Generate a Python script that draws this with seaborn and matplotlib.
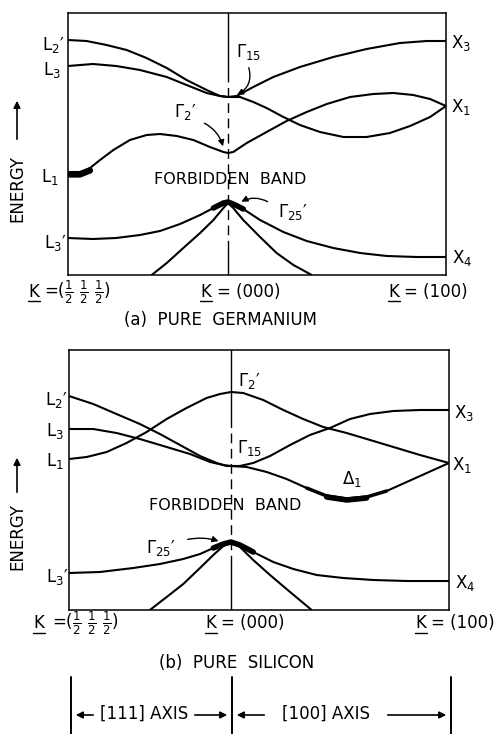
import matplotlib
matplotlib.use("Agg")
import matplotlib.pyplot as plt
import seaborn as sns

# ------------------------------------------------------------------
# Data. k: L=(1/2 1/2 1/2) at left, Gamma=(000) at 0, X=(100) at 1
# Energy in arbitrary units (0 = bottom of each panel)
# ------------------------------------------------------------------
# (a) Germanium
ge_up1_k = [-0.734, -0.649, -0.557, -0.465, -0.374, -0.281, -0.19, -0.098, -0.037, 0, 0.040, 0.116, 0.208, 0.330, 0.483, 0.636, 0.789, 0.912, 1.0]
ge_up1_e = [23.5, 23.4, 23.0, 22.5, 21.7, 20.7, 19.5, 18.5, 17.9, 17.8, 17.9, 18.8, 19.8, 20.8, 21.8, 22.6, 23.2, 23.4, 23.4]

ge_up2_k = [-0.734, -0.62, -0.513, -0.404, -0.281, -0.190, -0.098, -0.037, 0, 0.055, 0.116, 0.177, 0.254, 0.330, 0.422, 0.529, 0.636, 0.743, 0.835, 0.927, 1.0]
ge_up2_e = [20.9, 21.1, 20.9, 20.5, 19.8, 19.0, 18.2, 17.9, 17.8, 17.8, 17.3, 16.7, 15.8, 15.0, 14.3, 13.8, 13.8, 14.2, 14.9, 15.8, 16.9]

ge_cb_k = [-0.734, -0.679, -0.633, -0.587, -0.526, -0.450, -0.373, -0.312, -0.235, -0.159, -0.083, -0.021, 0, 0.024, 0.086, 0.177, 0.269, 0.361, 0.453, 0.560, 0.667, 0.758, 0.850, 0.927, 1.0]
ge_cb_e = [10.3, 10.3, 10.7, 11.5, 12.5, 13.5, 14.0, 14.1, 13.9, 13.5, 12.8, 12.3, 12.2, 12.3, 13.2, 14.3, 15.4, 16.3, 17.1, 17.8, 18.1, 18.2, 18.0, 17.6, 16.9]

ge_hh_k = [-0.734, -0.62, -0.513, -0.404, -0.312, -0.220, -0.128, -0.067, -0.021, 0, 0.024, 0.070, 0.147, 0.254, 0.361, 0.483, 0.606, 0.728, 0.866, 1.0]
ge_hh_e = [3.7, 3.6, 3.7, 4.0, 4.4, 5.1, 6.0, 6.7, 7.2, 7.3, 7.1, 6.6, 5.5, 4.3, 3.4, 2.7, 2.2, 1.9, 1.8, 1.8]

ge_lh_k = [-0.350, -0.281, -0.205, -0.128, -0.067, -0.021, 0, 0.024, 0.070, 0.147, 0.223, 0.300, 0.384]
ge_lh_e = [0.0, 1.2, 2.7, 4.2, 5.5, 6.7, 7.2, 6.7, 5.5, 3.8, 2.2, 1.0, 0.0]

# (b) Silicon
si_a_k = [-0.743, -0.632, -0.525, -0.418, -0.326, -0.234, -0.142, -0.066, -0.020, 0, 0.041, 0.102, 0.179, 0.271, 0.362, 0.454, 0.546, 0.638, 0.745, 0.867, 1.0]
si_a_e = [21.4, 20.6, 19.6, 18.6, 17.6, 16.5, 15.4, 14.7, 14.4, 14.4, 14.4, 14.7, 15.4, 16.5, 17.5, 18.2, 19.1, 19.6, 19.9, 20.0, 20.0]

si_b_k = [-0.743, -0.632, -0.525, -0.418, -0.295, -0.188, -0.096, -0.035, 0, 0.072, 0.164, 0.255, 0.347, 0.439, 0.531, 0.622, 0.714, 0.806, 0.898, 1.0]
si_b_e = [18.1, 18.1, 17.7, 17.1, 16.3, 15.6, 14.8, 14.5, 14.4, 14.3, 13.8, 13.1, 12.2, 11.4, 11.1, 11.3, 11.9, 12.8, 13.7, 14.7]

si_c_k = [-0.743, -0.662, -0.570, -0.479, -0.387, -0.295, -0.204, -0.112, -0.050, 0, 0.056, 0.148, 0.240, 0.331, 0.423, 0.530, 0.638, 0.745, 0.867, 1.0]
si_c_e = [15.1, 15.3, 15.8, 16.7, 17.8, 19.1, 20.2, 21.2, 21.6, 21.8, 21.7, 21.0, 20.0, 19.1, 18.3, 17.7, 17.0, 16.3, 15.5, 14.7]

si_hh_k = [-0.743, -0.601, -0.448, -0.326, -0.219, -0.142, -0.081, -0.035, 0, 0.041, 0.102, 0.194, 0.286, 0.393, 0.515, 0.653, 0.806, 1.0]
si_hh_e = [3.7, 3.8, 4.2, 4.6, 5.1, 5.6, 6.2, 6.6, 6.8, 6.5, 5.8, 4.8, 4.1, 3.5, 3.2, 3.0, 2.9, 2.9]

si_lh_k = [-0.372, -0.295, -0.219, -0.142, -0.081, -0.035, 0, 0.041, 0.102, 0.179, 0.271, 0.370]
si_lh_e = [0.0, 1.3, 2.6, 4.2, 5.5, 6.4, 6.8, 6.3, 5.0, 3.5, 1.8, 0.0]

k_points = ["K", "K", "K"]
k_values = [r"=($\frac{1}{2}\ \frac{1}{2}\ \frac{1}{2}$)", "= (000)", "= (100)"]
left_labels = ["L$_2$\u2032", "L$_3$", "L$_1$", "L$_3$\u2032"]
right_labels = ["X$_3$", "X$_1$", "X$_4$"]

# ------------------------------------------------------------------
sns.set_style("white")
plt.rcParams["font.family"] = ["DejaVu Sans"]
plt.rcParams["mathtext.fontset"] = "dejavusans"
plt.rcParams["mathtext.default"] = "regular"
plt.rcParams["text.color"] = "black"

W, H = 496, 734
fig = plt.figure(figsize=(W / 100, H / 100), dpi=100)


def box(l, t, r, b):
    return [l / W, 1 - b / H, (r - l) / W, (b - t) / H]


ax1 = fig.add_axes(box(68, 13, 446, 275))
ax2 = fig.add_axes(box(69, 350, 449, 610))
ov = fig.add_axes([0, 0, 1, 1], zorder=5)
ov.set_xlim(0, W)
ov.set_ylim(H, 0)
ov.axis("off")
ov.patch.set_alpha(0)

LW = 1.5


def band(ax, k, e, lw=LW):
    sns.lineplot(x=k, y=e, ax=ax, color="black", lw=lw, sort=False,
                 estimator=None, legend=False)


for ax, xl, yl in [(ax1, -0.734, 26.2), (ax2, -0.743, 26.0)]:
    ax.set_xlim(xl, 1.0)
    ax.set_ylim(0, yl)
    ax.set_xticks([])
    ax.set_yticks([])
    ax.set_xlabel("")
    ax.set_ylabel("")
    for s in ax.spines.values():
        s.set_color("black")
        s.set_linewidth(1.1)

# panel (a)
band(ax1, ge_up1_k, ge_up1_e)
band(ax1, ge_up2_k, ge_up2_e)
band(ax1, ge_cb_k, ge_cb_e)
band(ax1, ge_hh_k, ge_hh_e)
band(ax1, ge_lh_k, ge_lh_e)
# thick blobs (band extrema)
band(ax1, ge_cb_k[:3], [v - 0.25 for v in ge_cb_e[:3]], lw=4.5)
band(ax1, ge_hh_k[7:12], ge_hh_e[7:12], lw=4.0)
# centre line
ax1.plot([0, 0], [20.0, 26.2], color="black", lw=1.0)
ax1.plot([0, 0], [2.5, 20.0], color="black", lw=1.0, dashes=(7, 4))
ax1.plot([0, 0], [0, 2.5], color="black", lw=1.0)

# panel (b)
band(ax2, si_a_k, si_a_e)
band(ax2, si_b_k, si_b_e)
band(ax2, si_c_k, si_c_e)
band(ax2, si_hh_k, si_hh_e)
band(ax2, si_lh_k, si_lh_e)
band(ax2, si_b_k[13:16], [v - 0.1 for v in si_b_e[13:16]], lw=4.0)
band(ax2, si_b_k[12:17], si_b_e[12:17], lw=2.5)
band(ax2, si_hh_k[6:11], si_hh_e[6:11], lw=4.0)
ax2.plot([0, 0], [18.3, 26.0], color="black", lw=1.0)
ax2.plot([0, 0], [4.5, 18.3], color="black", lw=1.0, dashes=(7, 4))
ax2.plot([0, 0], [0, 4.5], color="black", lw=1.0)

FS = 12


def t(x, y, s, fs=FS, **kw):
    ov.text(x, y, s, fontsize=fs, color="black", ha=kw.pop("ha", "center"),
            va=kw.pop("va", "center"), **kw)


# ---- labels panel (a)
for (x, y), s in zip([(53, 45), (52, 70), (50, 177), (55, 243)], left_labels):
    t(x, y, s)
for (x, y), s in zip([(461, 43), (461, 107), (462, 258)], right_labels):
    t(x, y, s)
t(230, 180, "FORBIDDEN  BAND", fs=11.5)
t(249, 52, r"$\Gamma_{15}$", fs=12)
t(185, 112, "$\\Gamma_{2}$\u2032", fs=12)
t(293, 212, "$\\Gamma_{25}$\u2032", fs=12)
ax1.annotate("", xy=(0.03, 17.9), xycoords="data", xytext=(248, H - 65),
             textcoords="figure pixels",
             arrowprops=dict(arrowstyle="-|>", color="black", lw=1.0,
                             connectionstyle="arc3,rad=-0.45", mutation_scale=9))
ax1.annotate("", xy=(-0.02, 12.6), xycoords="data", xytext=(202, H - 122),
             textcoords="figure pixels",
             arrowprops=dict(arrowstyle="-|>", color="black", lw=1.0,
                             connectionstyle="arc3,rad=-0.25", mutation_scale=9))
ax1.annotate("", xy=(0.05, 7.2), xycoords="data", xytext=(270, H - 203),
             textcoords="figure pixels",
             arrowprops=dict(arrowstyle="-|>", color="black", lw=1.0,
                             connectionstyle="arc3,rad=0.3", mutation_scale=9))

# k labels panel (a)
for kx, rx, s in [(34, 44, k_values[0]), (206, 217, k_values[1]), (394, 404, k_values[2])]:
    t(kx, 292, "K")
    ov.plot([kx - 6, kx + 6], [301, 301], color="black", lw=1.0)
    t(rx, 292, s, ha="left")
t(220, 320, "(a)  PURE  GERMANIUM", fs=12)

# ---- labels panel (b)
for (x, y), s in zip([(56, 400), (55, 431), (55, 461), (57, 577)], left_labels):
    t(x, y, s)
for (x, y), s in zip([(464, 413), (462, 465), (465, 583)], right_labels):
    t(x, y, s)
t(225, 506, "FORBIDDEN  BAND", fs=11.5)
t(249, 381, "$\\Gamma_{2}$\u2032", fs=12)
t(250, 448, r"$\Gamma_{15}$", fs=12)
t(352, 479, r"$\Delta_1$", fs=12)
t(161, 548, "$\\Gamma_{25}$\u2032", fs=12)
ax2.annotate("", xy=(-0.045, 6.8), xycoords="data", xytext=(185, H - 540),
             textcoords="figure pixels",
             arrowprops=dict(arrowstyle="-|>", color="black", lw=1.0,
                             connectionstyle="arc3,rad=-0.15", mutation_scale=9))
for kx, rx, s in [(39, 52, k_values[0]), (211, 221, k_values[1]), (421, 431, k_values[2])]:
    t(kx, 623, "K")
    ov.plot([kx - 6, kx + 6], [633, 633], color="black", lw=1.0)
    t(rx, 623, s, ha="left")
t(237, 663, "(b)  PURE  SILICON", fs=12)

# ENERGY labels
for ycen, ya, yb in [(189, 142, 98), (537, 495, 455)]:
    t(17, ycen, "ENERGY", rotation=90, fs=12)
    ov.annotate("", xy=(17, yb), xytext=(17, ya),
                arrowprops=dict(arrowstyle="-|>", color="black", lw=1.2, mutation_scale=10))

# axis annotation at the bottom
for x in [71, 232, 451]:
    ov.plot([x, x], [677, 734], color="black", lw=1.4)
arr = dict(arrowstyle="-|>", color="black", lw=1.2, mutation_scale=10)
ov.annotate("", xy=(73, 715), xytext=(96, 715), arrowprops=arr)
ov.annotate("", xy=(230, 715), xytext=(192, 715), arrowprops=arr)
ov.annotate("", xy=(234, 715), xytext=(267, 715), arrowprops=arr)
ov.annotate("", xy=(449, 715), xytext=(385, 715), arrowprops=arr)
t(144, 714, "[111] AXIS", fs=12)
t(326, 714, "[100] AXIS", fs=12)

fig.savefig("out.png", dpi=100)
